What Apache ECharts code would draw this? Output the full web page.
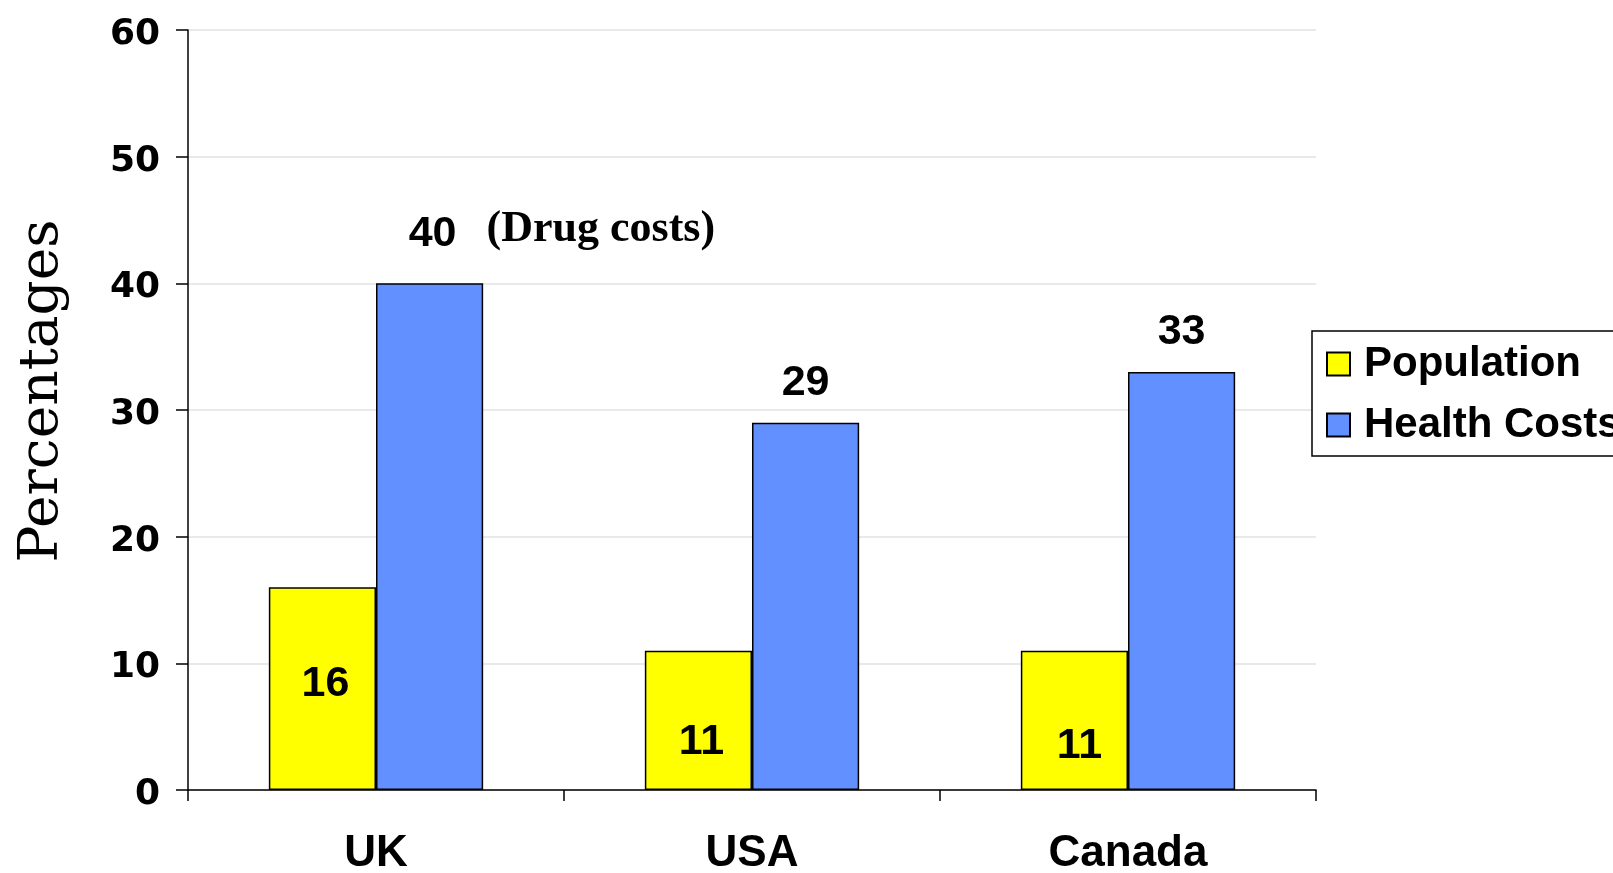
<!DOCTYPE html>
<html>
<head>
<meta charset="utf-8">
<title>Population vs Health Costs</title>
<script src="https://cdn.jsdelivr.net/npm/echarts@6/dist/echarts.min.js"></script>
<style>
  html, body { margin: 0; padding: 0; background: #ffffff; }
  #chart { width: 1613px; height: 873px; }
</style>
</head>
<body>
<div id="chart"></div>
<script>
// Countries on the category axis
const countries = ['UK', 'USA', 'Canada'];
// Share of population (%)
const population = [16, 11, 11];
// Share of health costs (%)
const healthCosts = [40, 29, 33];
// Value axis ticks
const yTicks = [0, 10, 20, 30, 40, 50, 60];
// Note attached to the UK health-cost bar
const ukNote = '(Drug costs)';

const chart = echarts.init(document.getElementById('chart'), null, { renderer: 'canvas' });

const sansBold = { fontFamily: '"Liberation Sans", Arial, sans-serif', fontWeight: 'bold', color: '#000' };

// per-bar nudges for the value labels
const popLabelShift = [[3, -5], [3, 22], [5, 26]];
const costLabelShift = [[3, -10], [0, 0], [0, 0]];

const option = {
  backgroundColor: '#ffffff',
  animation: false,
  grid: { left: 188, right: 297, top: 30, bottom: 83, outerBoundsMode: 'none', containLabel: false },
  legend: {
    orient: 'vertical',
    left: 1312,
    top: 331,
    padding: [12, 14, 10, 14],
    itemGap: 19,
    itemWidth: 23,
    itemHeight: 23,
    icon: 'rect',
    borderColor: '#000',
    borderWidth: 1.5,
    backgroundColor: '#fff',
    textStyle: Object.assign({ fontSize: 42, padding: [0, 0, 0, 9] }, sansBold),
    data: ['Population', 'Health Costs']
  },
  xAxis: {
    type: 'category',
    data: countries,
    axisLine: { lineStyle: { color: '#000', width: 1.5 } },
    axisTick: { show: true, length: 11, lineStyle: { color: '#000', width: 1.5 } },
    axisLabel: Object.assign({ fontSize: 44, margin: 42 }, sansBold)
  },
  yAxis: {
    type: 'value',
    min: yTicks[0],
    max: yTicks[yTicks.length - 1],
    interval: yTicks[1] - yTicks[0],
    name: 'Percentages',
    nameLocation: 'middle',
    nameRotate: 90,
    nameGap: 118,
    nameTextStyle: {
      fontFamily: '"DejaVu Serif", "Liberation Serif", serif',
      fontSize: 55,
      color: '#000',
      padding: [0, 0, 0, 38]
    },
    axisLine: { show: true, lineStyle: { color: '#000', width: 1.5 } },
    axisTick: { show: true, length: 12, lineStyle: { color: '#000', width: 1.5 } },
    axisLabel: {
      margin: 28,
      formatter: '{t|{value}}',
      rich: {
        t: {
          fontFamily: '"DejaVu Sans", sans-serif',
          fontWeight: 'bold',
          fontSize: 36,
          color: '#000',
          padding: [9, 0, 0, 0]
        }
      }
    },
    splitLine: { show: true, lineStyle: { color: '#e2e2e2', width: 1.5 } }
  },
  series: [
    {
      name: 'Population',
      type: 'bar',
      barGap: '0%',
      barCategoryGap: '43%',
      itemStyle: { color: '#ffff00', borderColor: '#000', borderWidth: 1.5 },
      label: Object.assign({ show: true, position: 'inside', fontSize: 43 }, sansBold),
      data: population.map((v, i) => ({ value: v, label: { offset: popLabelShift[i] } }))
    },
    {
      name: 'Health Costs',
      type: 'bar',
      barGap: '0%',
      barCategoryGap: '43%',
      itemStyle: { color: '#6290fe', borderColor: '#000', borderWidth: 1.5 },
      label: Object.assign({ show: true, position: 'top', distance: 18, fontSize: 43 }, sansBold),
      data: healthCosts.map((v, i) => ({ value: v, label: { offset: costLabelShift[i] } })),
      markPoint: {
        symbol: 'circle',
        symbolSize: 0,
        silent: true,
        label: {
          show: true,
          position: 'inside',
          align: 'left',
          verticalAlign: 'middle',
          offset: [57, -54],
          formatter: ukNote,
          fontFamily: '"Liberation Serif", "Times New Roman", serif',
          fontWeight: 'bold',
          fontSize: 44,
          color: '#000'
        },
        data: [{ coord: [countries[0], healthCosts[0]] }]
      }
    }
  ]
};

chart.setOption(option);
</script>
</body>
</html>
